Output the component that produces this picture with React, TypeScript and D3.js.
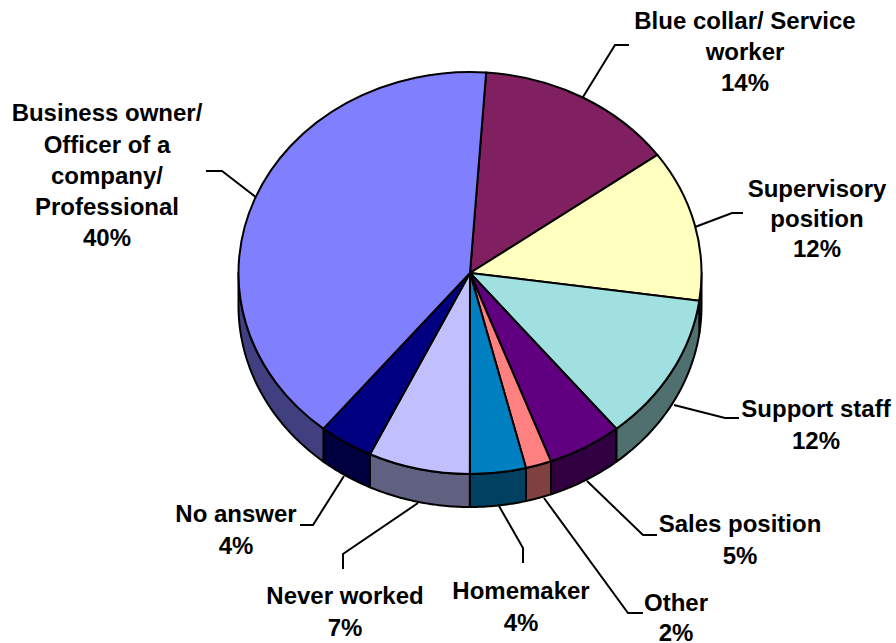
import React from "react";
import * as d3 from "d3";

const categories = ["Blue collar/ Service worker", "Supervisory position", "Support staff", "Sales position", "Other", "Homemaker", "Never worked", "No answer", "Business owner/ Officer of a company/ Professional"];
const shares = [13.9, 12.2, 11.9, 5.2, 1.8, 3.9, 7.1, 3.8, 40.2];
const percentLabels = ["14%", "12%", "12%", "5%", "2%", "4%", "7%", "4%", "40%"];
const topColors = ["#802060", "#FFFFC0", "#A0E0E0", "#600080", "#FF8080", "#0080C0", "#C0C0FF", "#000080", "#8080FF"];
const sideColors = ["#401030", "#808060", "#507070", "#300040", "#804040", "#004060", "#606080", "#000040", "#404080"];
const labelLines = [
  ["Blue collar/ Service", "worker", "14%"],
  ["Supervisory", "position", "12%"],
  ["Support staff", "12%"],
  ["Sales position", "5%"],
  ["Other", "2%"],
  ["Homemaker", "4%"],
  ["Never worked", "7%"],
  ["No answer", "4%"],
  ["Business owner/", "Officer of a", "company/", "Professional", "40%"],
];

// Layout of labels and leader lines
const labelX = [745, 817, 816, 740, 676, 521, 345, 236, 107];
const labelY = [[29, 60, 91], [197, 227, 257], [417, 449], [532, 564], [611, 641], [599, 631], [604, 636], [522, 554], [121, 153, 184, 215, 246]];
const leaders: [number, number][][] = [
  [[583, 97], [615, 45], [629, 45]],
  [[695, 227], [732, 213], [743, 213]],
  [[674, 405], [725, 418], [739, 418]],
  [[587, 481], [643, 535], [657, 535]],
  [[544, 498], [628, 613], [643, 613]],
  [[499, 506], [523, 548], [523, 563]],
  [[418, 503], [343, 554], [343, 569]],
  [[344, 476], [313, 525], [300, 525]],
  [[257, 198], [222, 171], [206, 171]],
];

const cx = 470, cy = 273, rx = 231.5, ry = 201, depth = 33;
const START = (4 * Math.PI) / 180;

export default function App() {
  const pie = d3.pie<number>().sort(null).startAngle(START).endAngle(START + 2 * Math.PI);
  const arcs = pie(shares);
  const arc = d3.arc<d3.PieArcDatum<number>>().innerRadius(0).outerRadius(rx);
  const px = (a: number) => cx + rx * Math.sin(a);
  const py = (a: number) => cy - ry * Math.cos(a);
  const side = d3.area<number>().x(px).y0(py).y1((a) => py(a) + depth);
  const walls = arcs.map((d) => {
    const a0 = Math.max(d.startAngle, Math.PI / 2);
    const a1 = Math.min(d.endAngle, (3 * Math.PI) / 2);
    return a1 > a0 ? d3.range(0, 41).map((i) => a0 + ((a1 - a0) * i) / 40) : null;
  });
  const line = d3.line();
  return (
    <svg width={896} height={643} style={{ position: "absolute", left: 0, top: 0, fontFamily: "'Liberation Sans', Arial, sans-serif" }}>
      <rect width={896} height={643} fill="#fff" />
      {leaders.map((l, i) => (
        <path key={i} d={line(l) ?? ""} fill="none" stroke="#000" strokeWidth={2} />
      ))}
      {walls.map((w, i) => w && (
        <path key={i} d={side(w) ?? ""} fill={sideColors[i]} stroke="#000" strokeWidth={2} strokeLinejoin="round" />
      ))}
      <g transform={`translate(${cx},${cy}) scale(1,${ry / rx})`}>
        {arcs.map((d, i) => (
          <path key={i} d={arc(d) ?? ""} fill={topColors[i]} stroke="#000" strokeWidth={2} strokeLinejoin="round" vectorEffect="non-scaling-stroke">
            <title>{`${categories[i]}: ${percentLabels[i]}`}</title>
          </path>
        ))}
      </g>
      {labelLines.map((lines, i) => (
        <text key={i} textAnchor="middle" fontSize={24} fontWeight={700} fill="#000">
          {lines.map((t, j) => (
            <tspan key={j} x={labelX[i]} y={labelY[i][j]}>{t}</tspan>
          ))}
        </text>
      ))}
    </svg>
  );
}
